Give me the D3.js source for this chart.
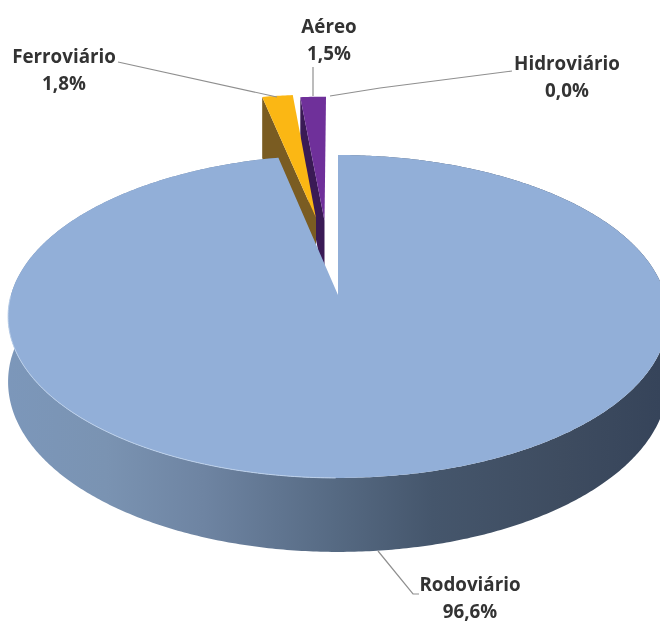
<!DOCTYPE html>
<html lang="en">
<head>
<meta charset="UTF-8">
<title>Matriz de transporte</title>
<style>
  html, body { margin: 0; background: #fff; }
  svg { display: block; filter: blur(0.5px); }
  text { font-family: "Open Sans", Lato, sans-serif; font-weight: 700; font-size: 18.8px; fill: #333; text-anchor: middle; }
</style>
</head>
<body>
<svg id="chart" width="660" height="623"></svg>
<script src="https://d3js.org/d3.v7.min.js"></script>
<script>
  const categories = ["Rodoviário", "Ferroviário", "Aéreo", "Hidroviário"];
  const shares = [96.6, 1.8, 1.5, 0.0];
  const shareLabels = ["96,6%", "1,8%", "1,5%", "0,0%"];

  const topColors = ["#92afd8", "#fbb714", "#6f309a", "#4bacc6"];
  const wallColors = [null, "#7a5c22", "#3a1a55", "#2f6f80"];
  // how far each slice is pulled out, in pie radii (across, along)
  const pulled = [[0, 0], [-0.072, -0.519], [-0.044, -0.5], [0, 0]];
  // label centre and leader line for each slice
  const labelAt = [[470, 591], [64, 63], [329, 33], [567, 70]];
  const leaders = [
    [[378, 551], [413, 594], [419, 594]],
    [[118, 62], [277, 97]],
    [[313, 67], [313, 96]],
    [[330, 96], [380, 88], [512, 71]]
  ];

  const svg = d3.select("#chart");

  // the pie lies in a plane seen in perspective, so the centre is not the middle of the ellipse
  const cx = 338, cy = 295, bx = 327, by = 158.6, tilt = -0.133;
  function project(u, v) {
    const w = 1 + tilt * v;
    return [cx + bx * u / w, cy + by * v / w];
  }
  const depth = d3.scaleLinear().domain([-1.5, 0, 1]).range([61, 64, 74]);

  function rimPoints(a0, a1, off) {
    const n = Math.max(2, Math.ceil(Math.abs(a1 - a0) / 0.01));
    return d3.range(n + 1).map(i => {
      const a = a0 + (a1 - a0) * i / n;
      return [off[0] + Math.sin(a), off[1] - Math.cos(a)];
    });
  }
  const upper = p => project(p[0], p[1]);
  const lower = p => { const q = project(p[0], p[1]); return [q[0], q[1] + depth(p[1])]; };
  const line = d3.line();

  const arcs = d3.pie().sort(null).startAngle(0).endAngle(2 * Math.PI)(shares);

  const grad = svg.append("defs").append("linearGradient")
    .attr("id", "wall").attr("gradientUnits", "userSpaceOnUse")
    .attr("x1", 8).attr("x2", 660).attr("y1", 0).attr("y2", 0);
  [[0, "#7c97ba"], [0.15, "#7a93b2"], [0.3, "#6e84a2"], [0.5, "#566a83"], [0.65, "#45566c"], [0.85, "#3e4c60"], [1, "#36445a"]]
    .forEach(s => grad.append("stop").attr("offset", s[0]).attr("stop-color", s[1]));

  // back to front: Aéreo, Ferroviário, then the big slice
  [2, 1, 0].forEach(i => {
    const d = arcs[i];
    const off = pulled[i];
    const rim = rimPoints(d.startAngle, d.endAngle, off);
    if (i === 0) {
      svg.append("path")
        .attr("d", line(rim.map(upper).concat(rim.slice().reverse().map(lower))) + "Z")
        .attr("fill", "url(#wall)");
    } else {
      // cut face on the left side of the pulled slice
      const tip = rim[0];
      svg.append("path")
        .attr("d", line([upper(off), upper(tip), lower(tip), lower(off)]) + "Z")
        .attr("fill", wallColors[i]);
    }
    svg.append("path")
      .attr("d", line([upper(off)].concat(rim.map(upper))) + "Z")
      .attr("fill", topColors[i]);
    if (i === 0) {
      // pale highlight along the front left of the rim
      const lit = rim.filter(p => p[0] < 0 && p[1] > 0);
      svg.append("path")
        .attr("d", line(lit.map(upper)))
        .attr("fill", "none").attr("stroke", "#bcd0ea").attr("stroke-width", 1);
    }
  });

  leaders.forEach(pts => {
    svg.append("path").attr("d", line(pts))
      .attr("fill", "none").attr("stroke", "#8f8f8f").attr("stroke-width", 1.2);
  });

  categories.forEach((c, i) => {
    const t = svg.append("text").attr("x", labelAt[i][0]).attr("y", labelAt[i][1]);
    t.append("tspan").attr("x", labelAt[i][0]).text(c);
    t.append("tspan").attr("x", labelAt[i][0]).attr("dy", 27).text(shareLabels[i]);
  });
</script>
</body>
</html>
